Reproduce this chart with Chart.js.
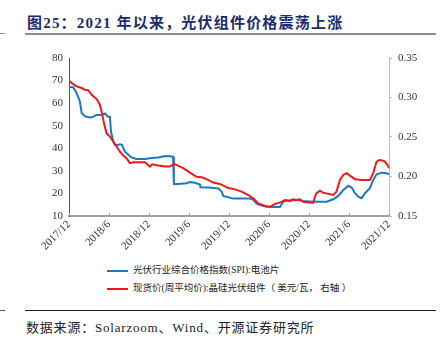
<!DOCTYPE html>
<html>
<head>
<meta charset="utf-8">
<script src="https://cdn.jsdelivr.net/npm/chart.js@4.4.1/dist/chart.umd.min.js"></script>
<style>
  body { margin: 0; background: #fff; }
  .page {
    position: relative;
    width: 444px;
    height: 347px;
    overflow: hidden;
    font-family: "Liberation Serif", "Noto Sans CJK SC", serif;
  }
  .title {
    position: absolute;
    left: 27px;
    top: 11px;
    font-size: 15px;
    letter-spacing: 1.2px;
    font-weight: bold;
    color: #1c2a6e;
    white-space: nowrap;
  }
  .rule { position: absolute; height: 0; }
  .rule.top { left: 25px; width: 411px; top: 33px; border-top: 2px solid #8c8c8c; }
  .rule.top-stub { left: 0; width: 5px; top: 33px; border-top: 1px solid #8c8c8c; }
  .rule.bottom { left: 25px; width: 411px; top: 310px; border-top: 1.5px solid #222; }
  .rule.bottom-stub { left: 0; width: 5px; top: 310px; border-top: 1px solid #555; }
  #chartWrap { position: absolute; left: 0; top: 45px; width: 444px; height: 215px; }
  .legend { position: absolute; left: 107px; font-size: 9.5px; color: #222; white-space: nowrap; }
  .legend i { display: inline-block; width: 21px; height: 2.5px; vertical-align: middle; margin-right: 5px; }
  .source {
    position: absolute;
    left: 26px;
    top: 317px;
    font-size: 13px;
    letter-spacing: 0.8px;
    color: #222;
    white-space: nowrap;
  }
</style>
</head>
<body>
<div class="page">
  <div class="title">图25：2021 年以来，光伏组件价格震荡上涨</div>
  <div class="rule top-stub"></div>
  <div class="rule top"></div>
  <div id="chartWrap"><canvas id="chart"></canvas></div>
  <div class="legend" style="top:262px"><i style="background:#1f77c4"></i>光伏行业综合价格指数(SPI):电池片</div>
  <div class="legend" style="top:280px"><i style="background:#f01818"></i>现货价(周平均价):晶硅光伏组件（ 美元/瓦， 右轴 ）</div>
  <div class="rule bottom-stub"></div>
  <div class="rule bottom"></div>
  <div class="source">数据来源：Solarzoom、Wind、开源证券研究所</div>
</div>
<script>
// SPI cell price index (left axis)
const cellDates = [
  "2017-12-01", "2017-12-20", "2018-01-05", "2018-01-20", "2018-01-28", "2018-02-13",
  "2018-03-05", "2018-03-19", "2018-04-05", "2018-04-28", "2018-05-13", "2018-05-25",
  "2018-06-05", "2018-06-10", "2018-06-20", "2018-06-28", "2018-07-10", "2018-07-20",
  "2018-07-29", "2018-08-13", "2018-08-28", "2018-09-13", "2018-10-05", "2018-11-13",
  "2018-12-13", "2019-01-13", "2019-02-13", "2019-03-05", "2019-03-19", "2019-03-23",
  "2019-04-11", "2019-05-20", "2019-06-05", "2019-06-28", "2019-07-20", "2019-07-23",
  "2019-09-01", "2019-10-13", "2019-10-28", "2019-11-05", "2019-11-28", "2019-12-20",
  "2020-03-05", "2020-03-20", "2020-04-05", "2020-04-20", "2020-05-20", "2020-06-20",
  "2020-07-20", "2020-08-05", "2020-08-20", "2020-10-05", "2020-11-05", "2020-12-20",
  "2021-02-20", "2021-03-20", "2021-04-13", "2021-05-05", "2021-05-28", "2021-06-13",
  "2021-06-28", "2021-07-13", "2021-07-28", "2021-08-13", "2021-09-05", "2021-09-20",
  "2021-10-05", "2021-10-28", "2021-11-20", "2021-12-01"
];
const cellIndex = [
  67.1, 67.0, 64.5, 60.7, 55.6, 54.1,
  53.6, 53.9, 54.8, 54.8, 55.4, 54.1,
  54.0, 47.4, 43.0, 41.5, 41.5, 41.8,
  41.5, 38.5, 37.1, 35.9, 35.3, 35.3,
  35.7, 35.9, 36.6, 36.5, 36.3, 24.2,
  24.2, 24.5, 25.0, 24.7, 23.9, 22.7,
  22.6, 22.2, 20.8, 18.9, 18.3, 17.7,
  17.7, 17.2, 15.6, 14.9, 14.1, 14.0,
  14.0, 16.3, 16.8, 17.1, 16.7, 16.3,
  16.3, 17.4, 18.9, 21.5, 23.4, 22.6,
  20.1, 18.6, 17.9, 20.1, 22.3, 26.0,
  28.5, 29.2, 28.9, 28.5
];

// crystalline-silicon module spot price, USD/W (right axis)
const moduleDates = [
  "2017-12-01", "2017-12-13", "2018-01-05", "2018-01-28", "2018-02-13", "2018-02-28",
  "2018-03-13", "2018-04-05", "2018-04-20", "2018-05-01", "2018-05-10", "2018-05-20",
  "2018-06-05", "2018-06-20", "2018-07-05", "2018-07-20", "2018-08-05", "2018-08-20",
  "2018-09-05", "2018-09-20", "2018-11-13", "2018-12-05", "2018-12-16", "2019-01-11",
  "2019-02-13", "2019-03-05", "2019-03-23", "2019-04-13", "2019-05-05", "2019-06-05",
  "2019-07-05", "2019-07-28", "2019-08-20", "2019-09-20", "2019-10-20", "2019-11-28",
  "2019-12-28", "2020-01-28", "2020-02-28", "2020-03-20", "2020-04-13", "2020-05-13",
  "2020-06-05", "2020-06-20", "2020-07-05", "2020-07-20", "2020-08-13", "2020-09-05",
  "2020-09-20", "2020-10-05", "2020-10-20", "2020-11-05", "2020-11-28", "2020-12-20",
  "2020-12-28", "2021-01-05", "2021-01-20", "2021-02-05", "2021-02-28", "2021-03-20",
  "2021-04-05", "2021-04-20", "2021-05-05", "2021-05-20", "2021-06-05", "2021-06-28",
  "2021-07-28", "2021-09-05", "2021-09-20", "2021-10-05", "2021-10-20", "2021-11-13",
  "2021-11-24", "2021-12-01"
];
const modulePrice = [
  0.3211, 0.3183, 0.3140, 0.3120, 0.3097, 0.3089,
  0.3034, 0.2980, 0.2909, 0.2780, 0.2654, 0.2549,
  0.2506, 0.2443, 0.2380, 0.2314, 0.2266, 0.2231,
  0.2169, 0.2180, 0.2180, 0.2126, 0.2154, 0.2140,
  0.2126, 0.2126, 0.2160, 0.2134, 0.2106, 0.2049,
  0.1997, 0.1991, 0.1966, 0.1923, 0.1906, 0.1854,
  0.1837, 0.1809, 0.1766, 0.1723, 0.1660, 0.1626,
  0.1617, 0.1640, 0.1660, 0.1669, 0.1703, 0.1691,
  0.1711, 0.1703, 0.1711, 0.1680, 0.1671, 0.1669,
  0.1746, 0.1789, 0.1820, 0.1794, 0.1780, 0.1766,
  0.1809, 0.1957, 0.2020, 0.2043, 0.2011, 0.1966,
  0.1957, 0.1957, 0.2043, 0.2189, 0.2211, 0.2189,
  0.2146, 0.2106
];

const tickLabels = [
  "2017/12", "2018/6", "2018/12", "2019/6", "2019/12",
  "2020/6", "2020/12", "2021/6", "2021/12"
];

// months elapsed since 2017/12, used as the x position
function monthOffset(s) {
  const [y, m, d] = s.split("-").map(Number);
  return (y - 2017) * 12 + (m - 12) + (d - 1) / 30;
}

function toPoints(dates, values) {
  return dates.map((d, i) => ({ x: monthOffset(d), y: values[i] }));
}

// short inward tick marks on the date axis
const innerTicks = {
  id: "innerTicks",
  afterDraw(chart) {
    const { ctx, chartArea, scales } = chart;
    ctx.save();
    ctx.strokeStyle = "#999";
    ctx.lineWidth = 1;
    scales.x.ticks.forEach((t) => {
      const px = Math.round(scales.x.getPixelForValue(t.value)) + 0.5;
      ctx.beginPath();
      ctx.moveTo(px, chartArea.bottom);
      ctx.lineTo(px, chartArea.bottom - 3);
      ctx.stroke();
    });
    ctx.restore();
  },
};

const tickFont = { family: "'Liberation Serif', serif", size: 11 };

new Chart(document.getElementById("chart"), {
  type: "line",
  data: {
    datasets: [
      {
        label: "光伏行业综合价格指数(SPI):电池片",
        data: toPoints(cellDates, cellIndex),
        borderColor: "#1f77c4",
        borderWidth: 2,
        pointRadius: 0,
        tension: 0,
        yAxisID: "y",
        order: 2,
      },
      {
        label: "现货价(周平均价):晶硅光伏组件（美元/瓦，右轴）",
        data: toPoints(moduleDates, modulePrice),
        borderColor: "#f01818",
        borderWidth: 2,
        pointRadius: 0,
        tension: 0,
        yAxisID: "y1",
        order: 1,
      },
    ],
  },
  options: {
    animation: false,
    responsive: true,
    maintainAspectRatio: false,
    layout: { padding: { top: 13, left: 0, right: 0, bottom: 0 } },
    plugins: {
      legend: { display: false },
      tooltip: { enabled: false },
    },
    scales: {
      x: {
        type: "linear",
        min: 0,
        max: 48,
        afterBuildTicks: (s) => {
          s.ticks = tickLabels.map((_, i) => ({ value: i * 6 }));
        },
        afterFit: (s) => { s.height = 44; },
        ticks: {
          callback: (v) => tickLabels[v / 6],
          maxRotation: 45,
          minRotation: 45,
          color: "#333",
          font: tickFont,
          padding: 2,
        },
        grid: { display: false, drawTicks: false },
        border: { color: "#a0a0a0", width: 2 },
      },
      y: {
        position: "left",
        min: 10,
        max: 80,
        afterFit: (s) => { s.width = 69; },
        ticks: { stepSize: 10, color: "#333", font: tickFont, padding: 6 },
        grid: { display: false, drawTicks: false },
        border: { color: "#555", width: 1 },
      },
      y1: {
        position: "right",
        min: 0.15,
        max: 0.35,
        afterFit: (s) => { s.width = 55; },
        ticks: {
          stepSize: 0.05,
          color: "#333",
          font: tickFont,
          padding: 6,
          callback: (v) => v.toFixed(2),
        },
        grid: {
          drawOnChartArea: false,
          drawTicks: true,
          tickLength: 3,
          color: "#bbb",
        },
        border: { color: "#bbb", width: 1 },
      },
    },
  },
  plugins: [innerTicks],
});
</script>
</body>
</html>
